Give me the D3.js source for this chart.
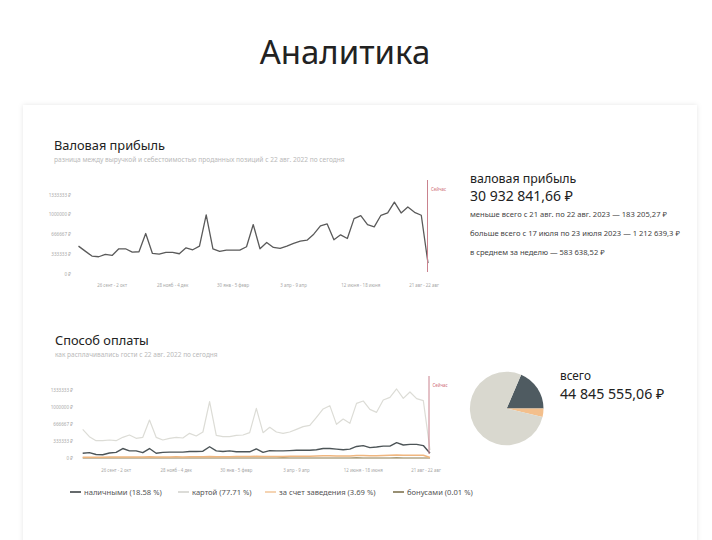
<!DOCTYPE html>
<html><head><meta charset="utf-8">
<script src="https://cdn.jsdelivr.net/npm/d3@7"></script>
<style>
body{margin:0;background:#fff;}
svg{display:block;font-family:"Noto Sans",sans-serif;}
</style>
</head><body>
<svg id="c" width="712" height="540"></svg>
<script>
// ---- data (weekly, 22 авг 2022 – 22 авг 2023) ----
const grossProfit = [470400,386400,302400,291200,330400,313600,425600,425600,369600,375200,
  683200,347200,336000,364000,364000,341600,442400,408800,470400,996800,
  425600,380800,403200,403200,403200,459200,834400,425600,532000,448000,
  431200,470400,515200,554400,571200,672000,812000,845600,576800,660800,
  599200,935200,985600,834400,795200,991200,1030400,1212639.3,1030400,1131200,
  1041600,991200,183205.27];
const cardValues = [562100,418300,339900,339900,352900,339900,405200,451000,385600,405200,
  745100,405200,352900,385600,405200,392200,483700,431400,509800,1104600,
  444400,418300,418300,444400,451000,496700,973900,496700,601300,509800,
  483700,509800,562100,614400,640500,797400,960800,1026200,660100,764700,
  679700,1071900,1117700,954300,895400,1137300,1189600,1353000,1170000,1294100,
  1163400,1124200,156900];
const cashValues = [92800,104400,69600,63800,98600,110200,185600,139200,139200,104400,
  185600,92800,110200,116000,116000,116000,127600,127600,133400,220400,
  139200,127600,139200,121800,121800,121800,179800,110200,145000,139200,
  139200,145000,150800,150800,150800,162400,185600,185600,174000,162400,
  174000,226200,243600,203000,214600,232000,232000,301600,255200,266800,
  266800,243600,92800];
const venueValues = [14200,15800,13900,16500,17200,18100,19800,17600,18900,20300,
  24100,19500,20800,21900,22400,21600,23800,24500,25100,31200,
  24900,25800,26300,27100,27800,28600,33400,28900,31500,30200,
  31100,32400,33800,35100,36200,39400,42800,44100,38600,41200,
  40500,47800,49300,46100,45200,50400,52800,57900,53600,56200,
  54800,53100,9800];
const bonusValues = [0,0,0,0,0,0,0,0,0,0, 0,0,0,0,0,0,0,0,0,0,
  0,0,0,0,0,0,0,0,0,0, 1200,0,0,0,0,0,0,0,0,0,
  0,1500,0,0,0,0,0,1785,0,0, 0,0,0];
const yTickValues = [0, 333333, 666667, 1000000, 1333333];
const yTickLabels = ["0 ₽", "333333 ₽", "666667 ₽", "1000000 ₽", "1333333 ₽"];
const xTickWeeks = [5, 14, 23, 32, 42, 52];
const xTickLabels = ["26 сент - 2 окт", "28 нояб - 4 дек", "30 янв - 5 февр", "3 апр - 9 апр", "12 июня - 18 июня", "21 авг - 22 авг"];
const payCategories = ["наличными", "картой", "за счет заведения", "бонусами"];
const payShares = [18.58, 77.71, 3.69, 0.01];
const payColors = ["#4f5b61", "#d9d8cf", "#f3bf8c", "#8c7b4e"];
const legendLineColors = ["#3e4447", "#d4d4cf", "#f3c9a0", "#7e7350"];

const svg = d3.select("#c");

// background slide card
const defs = svg.append("defs");
const f = defs.append("filter").attr("id","sh").attr("x","-5%").attr("y","-5%").attr("width","110%").attr("height","110%");
f.append("feDropShadow").attr("dx",0).attr("dy",0).attr("stdDeviation",2.5).attr("flood-color","#000").attr("flood-opacity",0.10);
svg.append("rect").attr("x",23).attr("y",105).attr("width",674).attr("height",445)
  .attr("fill","#fff").attr("filter","url(#sh)");

// main title
svg.append("text").attr("x",345).attr("y",64).attr("text-anchor","middle")
  .attr("font-size",33).attr("fill","#222").text("Аналитика");

const nW = grossProfit.length;

function drawAxes(g, x, y, labelX, xLabY, lastDx) {
  yTickValues.forEach((v,i) => {
    g.append("text").attr("x",labelX).attr("y",y(v)+1.6).attr("text-anchor","end")
      .attr("font-size",4.6).attr("fill","#a8a8a8").text(yTickLabels[i]);
  });
  xTickWeeks.forEach((w,i) => {
    g.append("text").attr("x",x(w)+(i===xTickWeeks.length-1?lastDx:0)).attr("y",xLabY)
      .attr("text-anchor","middle").attr("font-size",4.4).attr("fill","#a8a8a8").text(xTickLabels[i]);
  });
}

function nowMarker(g, xPos, y0, y1) {
  g.append("line").attr("x1",xPos).attr("x2",xPos).attr("y1",y0).attr("y2",y1)
    .attr("stroke","#c9828e").attr("stroke-width",1);
  g.append("text").attr("x",xPos+3.5).attr("y",y0+11).attr("font-size",4.4)
    .attr("fill","#d0707a").text("Сейчас");
}

// ---- section 1: gross profit ----
const s1 = svg.append("g");
s1.append("text").attr("x",54).attr("y",150).attr("font-size",12.8).attr("fill","#222").text("Валовая прибыль");
s1.append("text").attr("x",54).attr("y",161.5).attr("font-size",6.6).attr("fill","#b9b9b9")
  .text("разница между выручкой и себестоимостью проданных позиций с 22 авг. 2022 по сегодня");
const x1 = d3.scaleLinear().domain([0, nW-1]).range([78.5, 428]);
const y1 = d3.scaleLinear().domain([0, 1333333]).range([274, 195]);
drawAxes(s1, x1, y1, 71, 287, -4);
s1.append("path").datum(grossProfit)
  .attr("d", d3.line().x((d,i)=>x1(i)).y(d=>y1(d)))
  .attr("fill","none").attr("stroke","#5a5a5a").attr("stroke-width",1.3).attr("stroke-linejoin","round");
nowMarker(s1, x1(nW-1)-0.5, 180, 272);

// stats
const st = svg.append("g");
st.append("text").attr("x",470).attr("y",183).attr("font-size",12.4).attr("fill","#222").text("валовая прибыль");
st.append("text").attr("x",470).attr("y",201).attr("font-size",14).attr("fill","#222").text("30 932 841,66 ₽");
st.append("text").attr("x",470).attr("y",217).attr("font-size",7.6).attr("fill","#444")
  .text("меньше всего с 21 авг. по 22 авг. 2023 — 183 205,27 ₽");
st.append("text").attr("x",470).attr("y",235.5).attr("font-size",7.6).attr("fill","#444")
  .text("больше всего с 17 июля по 23 июля 2023 — 1 212 639,3 ₽");
st.append("text").attr("x",470).attr("y",255).attr("font-size",7.6).attr("fill","#444")
  .text("в среднем за неделю — 583 638,52 ₽");

// ---- section 2: payment method ----
const s2 = svg.append("g");
s2.append("text").attr("x",55).attr("y",345).attr("font-size",12.8).attr("fill","#222").text("Способ оплаты");
s2.append("text").attr("x",55).attr("y",357).attr("font-size",6.5).attr("fill","#b9b9b9")
  .text("как расплачивались гости с 22 авг. 2022 по сегодня");
const x2 = d3.scaleLinear().domain([0, nW-1]).range([82.7, 430]);
const y2 = d3.scaleLinear().domain([0, 1333333]).range([458, 390]);
drawAxes(s2, x2, y2, 73, 472, -4);
const series = [
  {v: cardValues, c: "#dcdcd6", w: 1.2},
  {v: bonusValues, c: "#8c7b4e", w: 1.2},
  {v: venueValues, c: "#f0b67e", w: 1.5},
  {v: cashValues, c: "#4c5457", w: 1.4}
];
series.forEach(s => {
  s2.append("path").datum(s.v)
    .attr("d", d3.line().x((d,i)=>x2(i)).y(d=>y2(d)))
    .attr("fill","none").attr("stroke",s.c).attr("stroke-width",s.w).attr("stroke-linejoin","round");
});
nowMarker(s2, x2(nW-1)-1, 376, 454);

// pie
const pieOrder = [0, 2, 3, 1];
const pieData = pieOrder.map(i => ({k: payCategories[i], v: payShares[i], c: payColors[i]}));
const a0 = 23.1 * Math.PI / 180;
const pie = d3.pie().sort(null).value(d=>d.v).startAngle(a0).endAngle(a0 + 2*Math.PI);
const arc = d3.arc().innerRadius(0).outerRadius(36.8);
const pg = svg.append("g").attr("transform","translate(506.7,408.5)");
pg.selectAll("path").data(pie(pieData)).join("path").attr("d",arc).attr("fill",d=>d.data.c);
svg.append("text").attr("x",560).attr("y",380).attr("font-size",11.8).attr("fill","#222").text("всего");
svg.append("text").attr("x",560).attr("y",399).attr("font-size",14.2).attr("fill","#222").text("44 845 555,06 ₽");

// legend
const legX = [70, 178, 265, 393];
const lg = svg.append("g");
payCategories.forEach((k,i) => {
  lg.append("line").attr("x1",legX[i]).attr("x2",legX[i]+11).attr("y1",492).attr("y2",492)
    .attr("stroke",legendLineColors[i]).attr("stroke-width",1.6);
  lg.append("text").attr("x",legX[i]+14).attr("y",494.5).attr("font-size",7.6).attr("fill","#555")
    .text(`${k} (${String(payShares[i])} %)`);
});
</script>
</body></html>
